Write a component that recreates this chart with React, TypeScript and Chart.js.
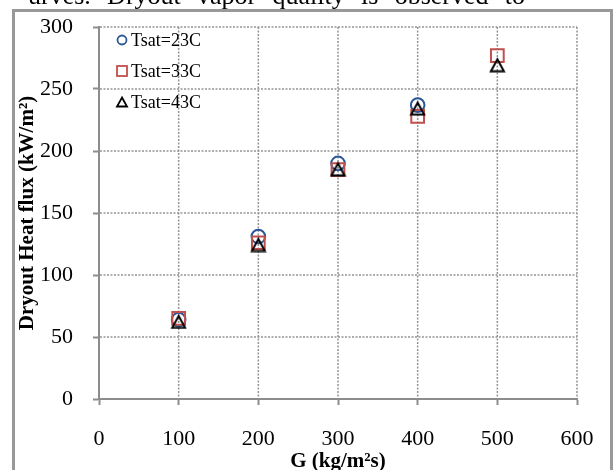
import React, { useEffect, useRef } from "react";
import { Chart, registerables } from "chart.js";

Chart.register(...registerables);

// ---- data ----
const xValues = [100, 200, 300, 400, 500];
const tsat23 = [64, 131, 190, 237];
const tsat33 = [65, 126, 185, 228, 277];
const tsat43 = [63, 125, 186, 235, 270];
const seriesLabels = ["Tsat=23C", "Tsat=33C", "Tsat=43C"];
const xTitle = "G (kg/m²s)";
const yTitle = "Dryout Heat flux (kW/m²)";
const headerWords = ["urves.", "Dryout", "vapor", "quality", "is", "observed", "to"];

const FAMILY = "'Liberation Serif', 'Times New Roman', serif";
const BLUE = "#2B5797";
const RED = "#C0504D";
const GRAY = "#8c8c8c";

const toPoints = (ys: number[]) => ys.map((y, i) => ({ x: xValues[i], y }));

function drawTri(g: CanvasRenderingContext2D, cx: number, cy: number, w: number, h: number, lw: number, color: string) {
  g.save();
  g.strokeStyle = color;
  g.lineWidth = lw;
  g.lineJoin = "miter";
  g.beginPath();
  g.moveTo(cx, cy - h / 2);
  g.lineTo(cx + w / 2, cy + h / 2);
  g.lineTo(cx - w / 2, cy + h / 2);
  g.closePath();
  g.stroke();
  g.restore();
}

function makeTriangleCanvas(size: number) {
  const c = document.createElement("canvas");
  c.width = size;
  c.height = size;
  const g = c.getContext("2d")!;
  drawTri(g, size / 2, size / 2 + 1, 13, 12, 2, "#000");
  return c;
}

const dottedGrid = {
  id: "dottedGrid",
  beforeDatasetsDraw(chart: any) {
    const { ctx, chartArea, scales } = chart;
    const { left, right, top, bottom } = chartArea;
    ctx.save();
    ctx.strokeStyle = "#949494";
    ctx.lineWidth = 1.5;
    ctx.setLineDash([2, 1.5]);
    for (const t of scales.x.ticks) {
      if (t.value === 0) continue;
      const px = scales.x.getPixelForValue(t.value);
      ctx.beginPath();
      ctx.moveTo(px, top);
      ctx.lineTo(px, bottom - 1);
      ctx.stroke();
    }
    for (const t of scales.y.ticks) {
      if (t.value === 0) continue;
      const py = scales.y.getPixelForValue(t.value);
      ctx.beginPath();
      ctx.moveTo(left + 1, py);
      ctx.lineTo(right, py);
      ctx.stroke();
    }
    ctx.restore();
  },
};

const insideLegend = {
  id: "insideLegend",
  afterDraw(chart: any) {
    const { ctx, chartArea } = chart;
    const mx = chartArea.left + 23;
    const tx = chartArea.left + 32;
    const rows = [chartArea.top + 13, chartArea.top + 44, chartArea.top + 75];
    ctx.save();
    ctx.lineWidth = 1.8;
    ctx.strokeStyle = BLUE;
    ctx.beginPath();
    ctx.arc(mx, rows[0], 4.5, 0, Math.PI * 2);
    ctx.stroke();
    ctx.strokeStyle = RED;
    ctx.strokeRect(mx - 5, rows[1] - 5, 10, 10);
    drawTri(ctx, mx, rows[2], 10, 9, 1.8, "#000");
    ctx.fillStyle = "#000";
    ctx.font = `18px ${FAMILY}`;
    ctx.textBaseline = "middle";
    ctx.textAlign = "left";
    seriesLabels.forEach((l, i) => ctx.fillText(l, tx, rows[i] + 1));
    ctx.restore();
  },
};

const header = {
  id: "header",
  beforeDraw(chart: any) {
    const { ctx } = chart;
    ctx.save();
    ctx.fillStyle = "#000";
    ctx.font = `26px ${FAMILY}`;
    ctx.textBaseline = "alphabetic";
    ctx.textAlign = "left";
    const startX = 28;
    const endX = 525;
    const widths = headerWords.map((w) => ctx.measureText(w).width);
    const total = widths.reduce((a, b) => a + b, 0);
    const gap = (endX - startX - total) / (headerWords.length - 1);
    let x = startX;
    headerWords.forEach((w, i) => {
      ctx.fillText(w, x, 3.5);
      x += widths[i] + gap;
    });
    ctx.restore();
  },
};

export default function App() {
  const ref = useRef<HTMLCanvasElement>(null);

  useEffect(() => {
    const canvas = ref.current!;
    const tri = makeTriangleCanvas(17);
    const common = {
      showLine: false,
      pointBackgroundColor: "rgba(0,0,0,0)",
      pointBorderWidth: 2,
    };
    const chart = new Chart(canvas, {
      type: "scatter",
      data: {
        datasets: [
          {
            ...common,
            label: seriesLabels[0],
            data: toPoints(tsat23),
            pointStyle: "circle",
            pointRadius: 6.8,
            pointHoverRadius: 6.8,
            borderColor: BLUE,
            pointBorderColor: BLUE,
            order: 3,
          },
          {
            ...common,
            label: seriesLabels[1],
            data: toPoints(tsat33),
            pointStyle: "rect",
            pointRadius: 9,
            pointHoverRadius: 9,
            borderColor: RED,
            pointBorderColor: RED,
            order: 2,
          },
          {
            ...common,
            label: seriesLabels[2],
            data: toPoints(tsat43),
            pointStyle: tri as any,
            pointRadius: 8,
            pointHoverRadius: 8,
            borderColor: "#000",
            pointBorderColor: "#000",
            order: 1,
          },
        ],
      },
      options: {
        responsive: false,
        animation: false,
        devicePixelRatio: 1,
        events: [],
        layout: { padding: { left: 0, top: 27, right: 37, bottom: 0 } },
        plugins: { legend: { display: false }, tooltip: { enabled: false } },
        scales: {
          x: {
            type: "linear",
            min: 0,
            max: 600,
            ticks: { stepSize: 100, color: "#000", padding: 21, font: { size: 22, family: FAMILY } },
            grid: { drawOnChartArea: false, drawTicks: true, tickLength: 6, tickColor: GRAY, tickWidth: 2 },
            border: { color: GRAY, width: 2 },
            title: {
              display: true,
              text: xTitle,
              color: "#000",
              font: { size: 21, weight: "bold", family: FAMILY },
              padding: { top: 0, bottom: -4 },
            },
            afterFit: (s: any) => {
              s.height = 71;
              s.paddingLeft = 0;
              s.paddingRight = 0;
            },
          },
          y: {
            type: "linear",
            min: 0,
            max: 300,
            ticks: { stepSize: 50, color: "#000", padding: 20, font: { size: 22, family: FAMILY } },
            grid: { drawOnChartArea: false, drawTicks: true, tickLength: 6, tickColor: GRAY, tickWidth: 2 },
            border: { color: GRAY, width: 2 },
            title: {
              display: true,
              text: yTitle,
              color: "#000",
              font: { size: 21, weight: "bold", family: FAMILY },
              padding: { top: 15, bottom: 0 },
            },
            afterFit: (s: any) => {
              s.width = 99;
              s.paddingTop = 0;
              s.paddingBottom = 0;
            },
          },
        },
      } as any,
      plugins: [header, dottedGrid, insideLegend],
    });
    return () => chart.destroy();
  }, []);

  return (
    <div
      style={{
        position: "absolute",
        left: 0,
        top: 0,
        width: 614,
        height: 470,
        overflow: "hidden",
        background: "#fff",
      }}
    >
      <canvas ref={ref} width={614} height={470} style={{ display: "block" }} />
      <div
        style={{
          position: "absolute",
          left: 12,
          top: 9,
          width: 601,
          height: 500,
          boxSizing: "border-box",
          border: "3px solid #999",
          pointerEvents: "none",
        }}
      />
    </div>
  );
}
